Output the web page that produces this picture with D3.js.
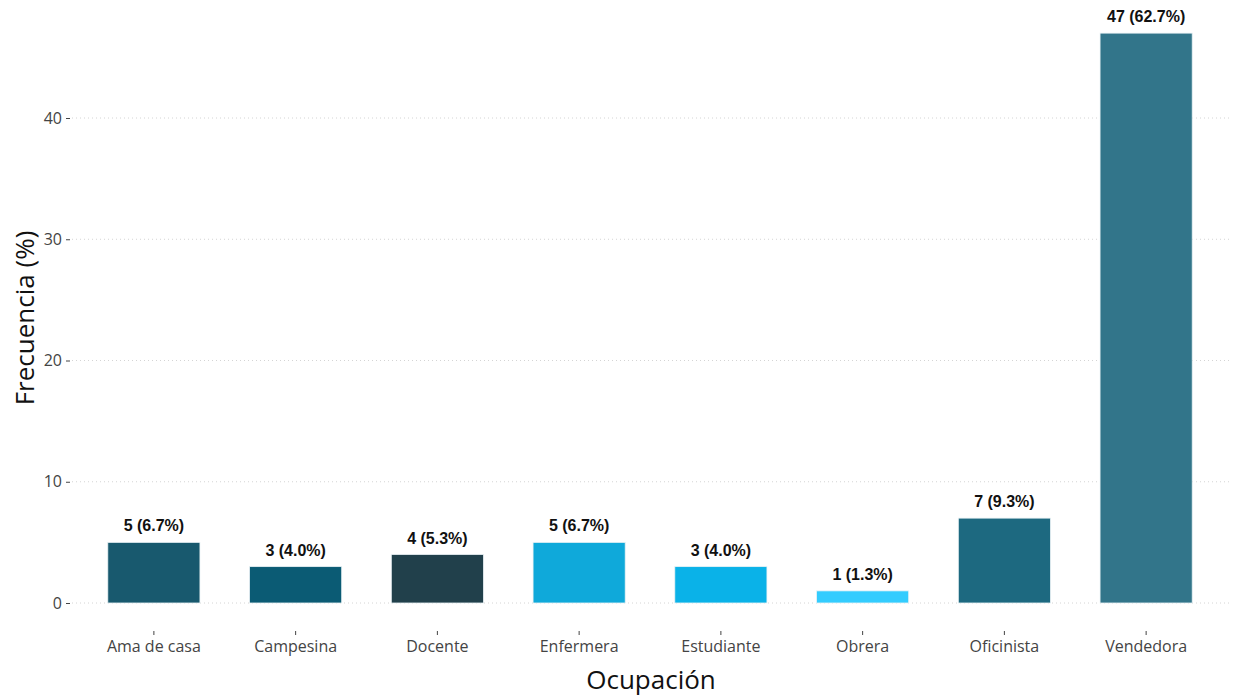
<!DOCTYPE html>
<html>
<head>
<meta charset="utf-8">
<script src="https://cdn.jsdelivr.net/npm/d3@7"></script>
<style>
  html, body { margin: 0; padding: 0; background: #fff; }
  svg { display: block; }
</style>
</head>
<body>
<svg id="chart" width="1235" height="696"></svg>
<script>
// Occupation frequencies
const categories = ["Ama de casa", "Campesina", "Docente", "Enfermera", "Estudiante", "Obrera", "Oficinista", "Vendedora"];
const counts = [5, 3, 4, 5, 3, 1, 7, 47];
const percents = ["6.7%", "4.0%", "5.3%", "6.7%", "4.0%", "1.3%", "9.3%", "62.7%"];
const barColors = ["#18596e", "#0b5b74", "#21404b", "#0fa9da", "#0ab2e8", "#33ccfe", "#1d6980", "#32758a"];
const yTicks = [0, 10, 20, 30, 40];

const svg = d3.select("#chart");
const plotLeft = 72, plotRight = 1232;

const x = d3.scaleBand()
  .domain(categories)
  .range([83, 1217])
  .paddingInner(0.35)
  .paddingOuter(0.175);

const y = d3.scaleLinear()
  .domain([0, 40])
  .range([603, 118]);

// Horizontal dotted gridlines
svg.append("g")
  .selectAll("line")
  .data(yTicks)
  .join("line")
  .attr("x1", plotLeft)
  .attr("x2", plotRight)
  .attr("y1", d => y(d))
  .attr("y2", d => y(d))
  .attr("stroke", "#d4d4d4")
  .attr("stroke-width", 1)
  .attr("stroke-dasharray", "1,3");

// Y axis
const yAxis = d3.axisLeft(y).tickValues(yTicks).tickSize(4).tickPadding(4);
const gy = svg.append("g").attr("transform", `translate(${plotLeft - 2},0)`).call(yAxis);
gy.select(".domain").remove();
gy.selectAll(".tick line").attr("stroke", "#444");
gy.selectAll(".tick text")
  .attr("fill", "#444")
  .style("font-family", "'Open Sans', sans-serif")
  .style("font-size", "16px");

// X axis
const xAxis = d3.axisBottom(x).tickSize(4).tickPadding(6);
const gx = svg.append("g").attr("transform", "translate(0,631)").call(xAxis);
gx.select(".domain").remove();
gx.selectAll(".tick line").attr("stroke", "#444");
gx.selectAll(".tick text")
  .attr("fill", "#444")
  .style("font-family", "'Open Sans', sans-serif")
  .style("font-size", "16px");

// Bars
svg.append("g")
  .selectAll("rect")
  .data(categories)
  .join("rect")
  .attr("x", d => x(d))
  .attr("width", x.bandwidth())
  .attr("y", (d, i) => y(counts[i]))
  .attr("height", (d, i) => y(0) - y(counts[i]))
  .attr("fill", (d, i) => barColors[i])
  .attr("stroke", "#eaf2f5")
  .attr("stroke-width", 0.8);

// Value labels
svg.append("g")
  .selectAll("text")
  .data(categories)
  .join("text")
  .attr("x", d => x(d) + x.bandwidth() / 2)
  .attr("y", (d, i) => y(counts[i]) - 11)
  .attr("text-anchor", "middle")
  .attr("fill", "#111")
  .style("font-family", "'Liberation Sans', Arial, sans-serif")
  .style("font-weight", "bold")
  .style("font-size", "16px")
  .text((d, i) => `${counts[i]} (${percents[i]})`);

// Axis titles
svg.append("text")
  .attr("x", 651)
  .attr("y", 689)
  .attr("text-anchor", "middle")
  .attr("fill", "#111")
  .style("font-family", "'Open Sans', sans-serif")
  .style("font-size", "26px")
  .text("Ocupación");

svg.append("text")
  .attr("transform", "translate(34,318) rotate(-90)")
  .attr("text-anchor", "middle")
  .attr("fill", "#111")
  .style("font-family", "'Open Sans', sans-serif")
  .style("font-size", "26px")
  .text("Frecuencia (%)");
</script>
</body>
</html>
